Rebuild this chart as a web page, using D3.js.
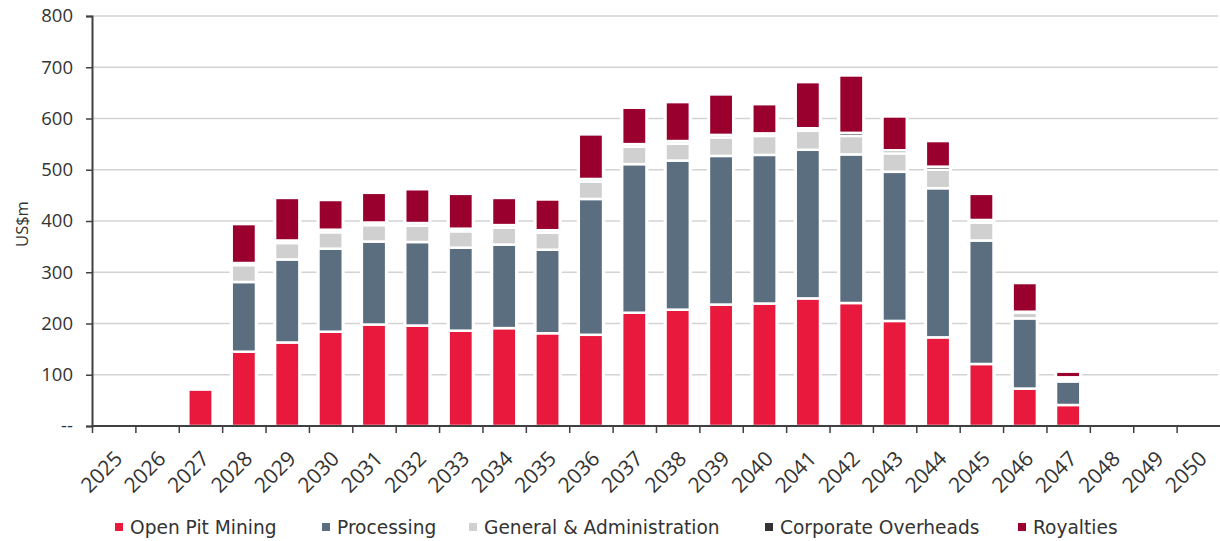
<!DOCTYPE html>
<html>
<head>
<meta charset="utf-8">
<script src="https://cdn.jsdelivr.net/npm/d3@7"></script>
<style>
  body { margin: 0; background: #fff; }
  .axis text { font-family: "Open Sans", sans-serif; font-size: 18.5px; fill: #333; }
  .axis text.year { font-size: 21px; }
  .legend text { font-family: "DejaVu Sans", sans-serif; font-size: 18.6px; fill: #333; }
</style>
</head>
<body>
<svg id="chart" width="1220" height="541"></svg>
<script>
const years = d3.range(2025, 2051).map(String)
const openPit    = [0, 0, 71, 145, 163, 184, 198, 196, 186, 191, 181, 178, 221, 227, 237, 239, 249, 240, 205, 173, 121, 73, 41, 0, 0, 0]
const processing = [0, 0, 0, 136, 162, 162, 162, 163, 162, 163, 163, 265, 290, 291, 290, 290, 290, 290, 291, 291, 241, 137, 46, 0, 0, 0]
const genAdmin   = [0, 0, 0, 33, 32, 32, 32, 32, 32, 33, 33, 34, 34, 33, 36, 37, 37, 36, 36, 36, 35, 11, 5, 0, 0, 0]
const corporate  = [0, 0, 0, 4, 5, 5, 5, 5, 5, 5, 5, 5, 5, 5, 5, 5, 5, 6, 6, 6, 5, 2, 3, 0, 0, 0]
const royalties  = [0, 0, 0, 76, 83, 58, 58, 66, 68, 53, 60, 87, 71, 76, 79, 57, 90, 112, 66, 50, 51, 56, 11, 0, 0, 0]
const yTicks = [0, 100, 200, 300, 400, 500, 600, 700, 800]

const series = [
  { key: 'Open Pit Mining', values: openPit, color: '#e8193c' },
  { key: 'Processing', values: processing, color: '#5b6e80' },
  { key: 'General & Administration', values: genAdmin, color: '#d0d0d0' },
  { key: 'Corporate Overheads', values: corporate, color: '#333333' },
  { key: 'Royalties', values: royalties, color: '#99002e' }
]

const rows = years.map((yr, i) => {
  const r = { year: yr }
  series.forEach(s => { r[s.key] = s.values[i] })
  return r
})

const svg = d3.select('#chart')
const plotLeft = 92, plotRight = 1220, plotTop = 16, plotBottom = 426

const x = d3.scaleBand().domain(years).range([plotLeft, plotRight]).padding(0)
const y = d3.scaleLinear().domain([0, 800]).range([plotBottom, plotTop])
const barW = x.bandwidth() * 0.56

// gridlines
svg.append('g')
  .selectAll('line')
  .data(yTicks.filter(d => d > 0))
  .join('line')
  .attr('x1', plotLeft).attr('x2', plotRight - 2)
  .attr('y1', d => y(d)).attr('y2', d => y(d))
  .attr('stroke', '#d3d3d3').attr('stroke-width', 1.7)

const stack = d3.stack().keys(series.map(s => s.key))(rows)
const color = d3.scaleOrdinal().domain(series.map(s => s.key)).range(series.map(s => s.color))

// white halo behind each stack so the gridlines stop short of the bars
svg.append('g')
  .selectAll('rect')
  .data(rows.filter(r => series.some(s => r[s.key] > 0)))
  .join('rect')
  .attr('x', d => x(d.year) + (x.bandwidth() - barW) / 2 - 2)
  .attr('width', barW + 4)
  .attr('y', d => y(d3.sum(series, s => d[s.key])))
  .attr('height', d => plotBottom - y(d3.sum(series, s => d[s.key])))
  .attr('fill', '#fff')

svg.append('g')
  .selectAll('g')
  .data(stack)
  .join('g')
  .attr('fill', d => color(d.key))
  .selectAll('rect')
  .data(d => d.filter(p => p[1] - p[0] > 0))
  .join('rect')
  .attr('x', d => x(d.data.year) + (x.bandwidth() - barW) / 2)
  .attr('width', barW)
  .attr('y', d => y(d[1]))
  .attr('height', d => y(d[0]) - y(d[1]))
  .attr('stroke', '#fff')
  .attr('stroke-width', 2.5)

// y axis
const yAxis = svg.append('g')
  .attr('class', 'axis')
  .attr('transform', `translate(${plotLeft},0)`)
  .call(d3.axisLeft(y).tickValues(yTicks).tickSize(6).tickPadding(13)
    .tickFormat(d => d === 0 ? '--' : d))
yAxis.select('.domain').attr('stroke', '#404040').attr('stroke-width', 2)
yAxis.selectAll('.tick line').attr('stroke', '#404040').attr('stroke-width', 1.5)
yAxis.selectAll('.tick text').attr('fill', '#333')

// x axis: ticks sit on the band edges
const xAxis = svg.append('g')
  .attr('class', 'axis')
  .attr('transform', `translate(0,${plotBottom})`)
xAxis.append('line')
  .attr('x1', plotLeft).attr('x2', plotRight)
  .attr('stroke', '#404040').attr('stroke-width', 2)
xAxis.selectAll('.xtick')
  .data(years)
  .join('line')
  .attr('class', 'xtick')
  .attr('x1', d => x(d) + 0.5).attr('x2', d => x(d) + 0.5)
  .attr('y1', 0).attr('y2', 7)
  .attr('stroke', '#404040').attr('stroke-width', 1.5)
xAxis.selectAll('text')
  .data(years)
  .join('text')
  .attr('class', 'year')
  .attr('text-anchor', 'end')
  .attr('transform', d => `translate(${x(d) + x.bandwidth() / 2 + 10},${34}) rotate(-45)`)
  .text(d => d)

svg.append('text')
  .attr('transform', 'translate(28,224) rotate(-90)')
  .attr('text-anchor', 'middle')
  .style('font-family', '"Open Sans", sans-serif')
  .style('font-size', '16.5px')
  .attr('fill', '#333')
  .text('US$m')

// legend
const legendX = [115, 322, 469, 765, 1018]
const legend = svg.append('g').attr('class', 'legend')
const item = legend.selectAll('g')
  .data(series)
  .join('g')
  .attr('transform', (d, i) => `translate(${legendX[i]},523)`)
item.append('rect').attr('width', 8).attr('height', 8).attr('fill', d => d.color)
item.append('text').attr('x', 15).attr('y', 10.5).text(d => d.key)
</script>
</body>
</html>
